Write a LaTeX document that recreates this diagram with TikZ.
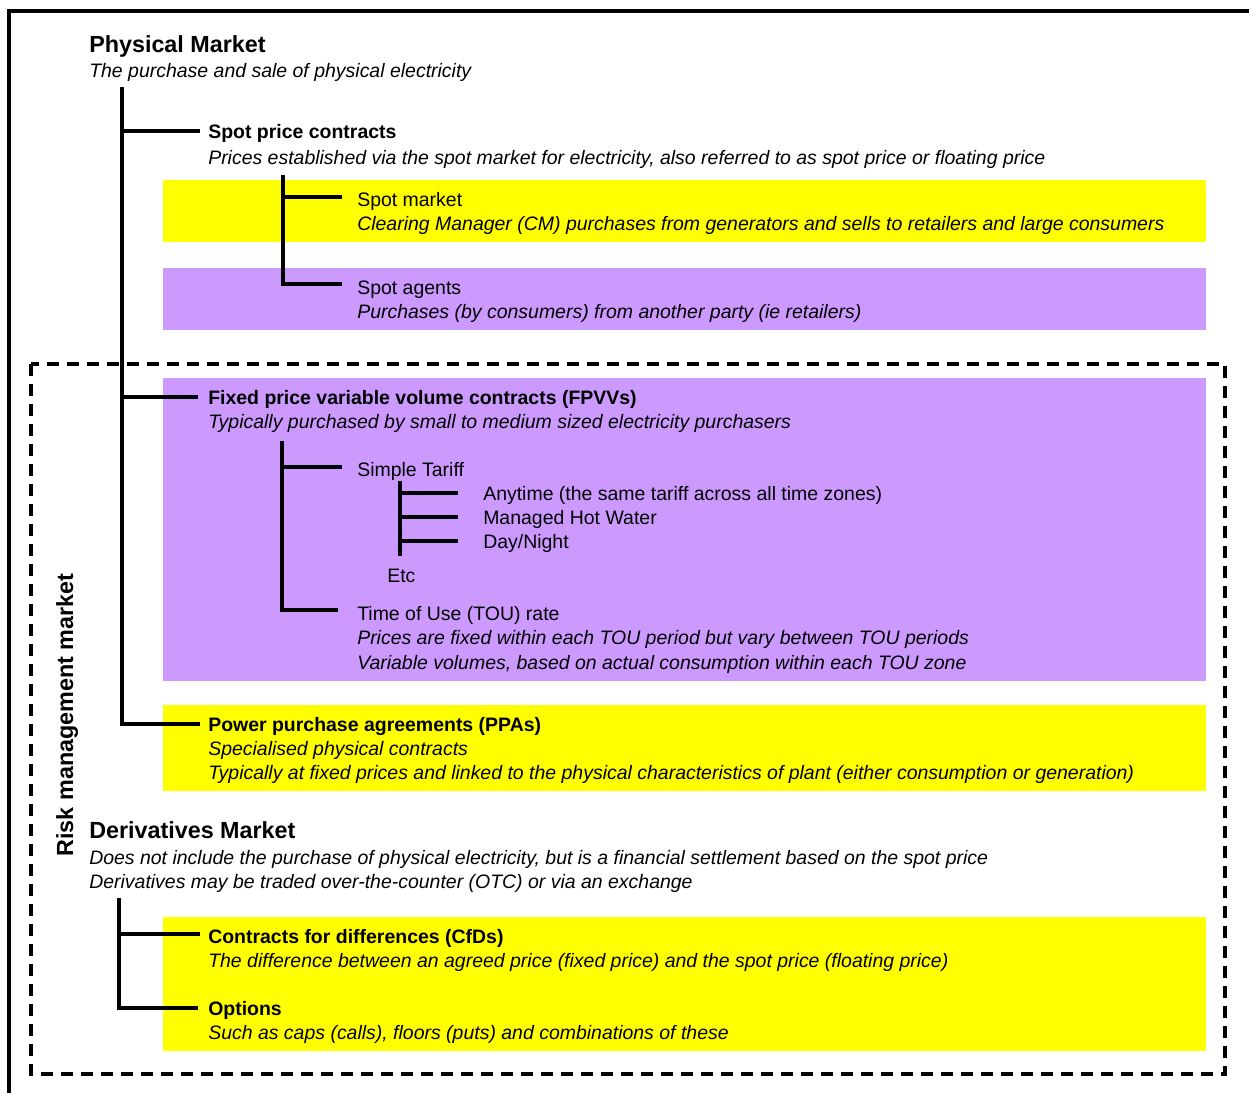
\documentclass[tikz,border=0pt]{standalone}
\usepackage{fontspec}
\setmainfont{Liberation Sans}
\begin{document}
\begin{tikzpicture}[x=0.75pt,y=-0.75pt,
  txt/.style={inner sep=0pt,anchor=base west,font=\fontsize{14.6}{17}\selectfont},
  head/.style={txt,font=\fontsize{14.6}{17}\selectfont\bfseries},
  note/.style={txt,font=\fontsize{14.6}{17}\selectfont\itshape},
  title/.style={txt,font=\fontsize{17.5}{21}\selectfont\bfseries},
  tree/.style={line width=2.5pt,line cap=butt,line join=miter},
  frame/.style={line width=2.7pt},
  riskbox/.style={line width=2.3pt,dash pattern=on 9pt off 6pt}]
\definecolor{bandyellow}{HTML}{FFFF00}
\definecolor{bandlilac}{HTML}{CC99FF}
\useasboundingbox (0,0) rectangle (1249,1093);

% coloured bands
\fill[bandyellow] (163,180) rectangle (1206,242);
\fill[bandlilac]  (163,268) rectangle (1206,330);
\fill[bandlilac]  (163,378) rectangle (1206,681);
\fill[bandyellow] (163,705) rectangle (1206,791);
\fill[bandyellow] (163,917) rectangle (1206,1051);

% outer frame (top and left edges)
\draw[frame] (9,1093) -- (9,11) -- (1249,11);

% risk management market region
\draw[riskbox] (31,364) rectangle (1225,1074);
\node[inner sep=0pt,anchor=base,rotate=90,font=\fontsize{17.5}{21}\selectfont\bfseries] (risk) at (73,715) {Risk management market};

% physical market
\node[title] (phys) at (89,52) {Physical Market};
\node[note] (physd) at (89,77) {The purchase and sale of physical electricity};

\node[head] (spot) at (208,138) {Spot price contracts};
\node[note] (spotd) at (208,164) {Prices established via the spot market for electricity, also referred to as spot price or floating price};

\node[txt] (smkt) at (357,206) {Spot market};
\node[note] (smktd) at (357,230) {Clearing Manager (CM) purchases from generators and sells to retailers and large consumers};

\node[txt] (sag) at (357,294) {Spot agents};
\node[note] (sagd) at (357,318) {Purchases (by consumers) from another party (ie retailers)};

\node[head] (fpvv) at (208,404) {Fixed price variable volume contracts (FPVVs)};
\node[note] (fpvvd) at (208,428) {Typically purchased by small to medium sized electricity purchasers};

\node[txt] (simple) at (357,476) {Simple Tariff};
\node[txt] (any) at (483,500) {Anytime (the same tariff across all time zones)};
\node[txt] (mhw) at (483,524) {Managed Hot Water};
\node[txt] (dn) at (483,548) {Day/Night};
\node[txt] (etc) at (387,582) {Etc};

\node[txt] (tou) at (357,620) {Time of Use (TOU) rate};
\node[note] (toud1) at (357,644) {Prices are fixed within each TOU period but vary between TOU periods};
\node[note] (toud2) at (357,669) {Variable volumes, based on actual consumption within each TOU zone};

\node[head] (ppa) at (208,731) {Power purchase agreements (PPAs)};
\node[note] (ppad1) at (208,755) {Specialised physical contracts};
\node[note] (ppad2) at (208,779) {Typically at fixed prices and linked to the physical characteristics of plant (either consumption or generation)};

% derivatives market
\node[title] (deriv) at (89,838) {Derivatives Market};
\node[note] (derivd1) at (89,864) {Does not include the purchase of physical electricity, but is a financial settlement based on the spot price};
\node[note] (derivd2) at (89,888) {Derivatives may be traded over-the-counter (OTC) or via an exchange};

\node[head] (cfd) at (208,943) {Contracts for differences (CfDs)};
\node[note] (cfdd) at (208,967) {The difference between an agreed price (fixed price) and the spot price (floating price)};

\node[head] (opt) at (208,1015) {Options};
\node[note] (optd) at (208,1039) {Such as caps (calls), floors (puts) and combinations of these};

% tree connectors
\coordinate (physroot) at (122,87);
\coordinate (k1) at (122,131);  \coordinate (e1) at (200,131);
\coordinate (k2) at (122,397);  \coordinate (e2) at (198,397);
\coordinate (k3) at (122,724);  \coordinate (e3) at (200,724);
\draw[tree] (physroot) -- (k3) -- (e3);
\draw[tree] (k1) -- (e1);
\draw[tree] (k2) -- (e2);

\coordinate (spotroot) at (283,175);
\coordinate (s1) at (283,197);  \coordinate (f1) at (342,197);
\coordinate (s2) at (283,284);  \coordinate (f2) at (342,284);
\draw[tree] (spotroot) -- (s2) -- (f2);
\draw[tree] (s1) -- (f1);

\coordinate (fproot) at (282,441);
\coordinate (t1) at (282,467);  \coordinate (g1) at (342,467);
\coordinate (t2) at (282,610);  \coordinate (g2) at (338,610);
\draw[tree] (fproot) -- (t2) -- (g2);
\draw[tree] (t1) -- (g1);

\coordinate (stroot) at (400,481);
\coordinate (stend) at (400,556);
\coordinate (u1) at (400,493);  \coordinate (h1) at (458,493);
\coordinate (u2) at (400,517);  \coordinate (h2) at (458,517);
\coordinate (u3) at (400,541);  \coordinate (h3) at (458,541);
\draw[tree] (stroot) -- (stend);
\draw[tree] (u1) -- (h1);
\draw[tree] (u2) -- (h2);
\draw[tree] (u3) -- (h3);

\coordinate (dvroot) at (119,898);
\coordinate (d1) at (119,934);  \coordinate (c1) at (200,934);
\coordinate (d2) at (119,1008); \coordinate (c2) at (198,1008);
\draw[tree] (dvroot) -- (d2) -- (c2);
\draw[tree] (d1) -- (c1);
\end{tikzpicture}
\end{document}
